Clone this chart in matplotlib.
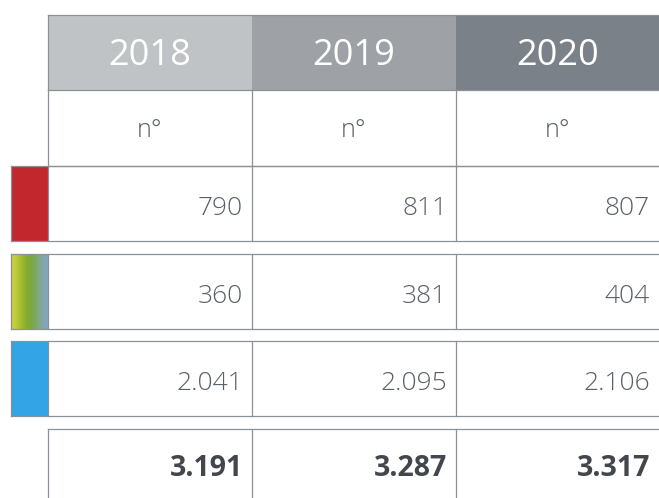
#!/usr/bin/python
# -*- coding: utf-8 -*-

from matplotlib import pyplot as plt
from matplotlib.patches import Rectangle
import numpy as np

years = ["2018", "2019", "2020"]
unit = "n°"
red_row = [790, 811, 807]
green_row = [360, 381, 404]
blue_row = [2041, 2095, 2106]
rows = [red_row, green_row, blue_row]
totals = [sum(v) for v in zip(*rows)]


def fmt(v):
    return f"{v:,}".replace(",", ".")


if __name__ == "__main__":
    plt.rcParams['font.family'] = ['Open Sans', 'DejaVu Sans']
    W, H = 659, 498
    fig = plt.figure(figsize=(W / 100, H / 100), dpi=100)
    ax = fig.add_axes([0, 0, 1, 1])
    ax.set_xlim(0, W)
    ax.set_ylim(H, 0)
    ax.axis("off")

    line = "#8c9197"
    lw = 0.9
    txt = "#5b6067"
    xs = [48, 252, 456, 659]
    head_colors = ["#c0c3c6", "#9ea2a6", "#7b8188"]

    # header
    for i, y in enumerate(years):
        ax.add_patch(Rectangle((xs[i], 15), xs[i + 1] - xs[i], 75,
                               color=head_colors[i], lw=0))
        ax.text((xs[i] + xs[i + 1]) / 2, 56, y, ha="center", va="center",
                color="white", fontsize=26)
    ax.plot([48, W], [15, 15], color=line, lw=lw)
    ax.plot([48, 48], [15, 90], color=line, lw=lw)

    # unit row
    for i in range(3):
        ax.text((xs[i] + xs[i + 1]) / 2, 130, unit, ha="center", va="center",
                color=txt, fontsize=18, fontweight="light")
    ax.plot([48, W], [90, 90], color=line, lw=lw)
    ax.plot([48, W], [166, 166], color=line, lw=lw)
    for x in xs[:3]:
        ax.plot([x, x], [90, 166], color=line, lw=lw)

    # data rows
    tops = [166, 254, 341]
    rh = 75
    for r, (vals, top) in enumerate(zip(rows, tops)):
        if r == 0:
            ax.add_patch(Rectangle((11, top), 37, rh, color="#c1272d", lw=0))
        elif r == 1:
            grad = np.array([[0.80, 0.83, 0.22], [0.60, 0.72, 0.20],
                             [0.47, 0.65, 0.18], [0.50, 0.66, 0.45],
                             [0.52, 0.65, 0.76]])
            ax.imshow(grad[np.newaxis, :, :], extent=(11, 48, top + rh, top),
                      aspect="auto", interpolation="bicubic")
        else:
            ax.add_patch(Rectangle((11, top), 37, rh, color="#33a4e6", lw=0))
        for i, v in enumerate(vals):
            ax.text(xs[i + 1] - 9, top + rh / 2 + 5, fmt(v), ha="right",
                    va="center", color=txt, fontsize=19, fontweight="light")
        ax.plot([11, W], [top, top], color=line, lw=lw)
        ax.plot([11, W], [top + rh, top + rh], color=line, lw=lw)
        for x in [11] + xs[:3]:
            ax.plot([x, x], [top, top + rh], color=line, lw=lw)

    # totals
    ax.plot([48, W], [429, 429], color=line, lw=lw)
    for x in xs[:3]:
        ax.plot([x, x], [429, H], color=line, lw=lw)
    for i, v in enumerate(totals):
        ax.text(xs[i + 1] - 9, 468, fmt(v), ha="right", va="center",
                color="#42474d", fontsize=20.5, fontweight="bold")

    ax.set_xlim(0, W)
    ax.set_ylim(H, 0)
    fig.savefig("out.png", dpi=100)
